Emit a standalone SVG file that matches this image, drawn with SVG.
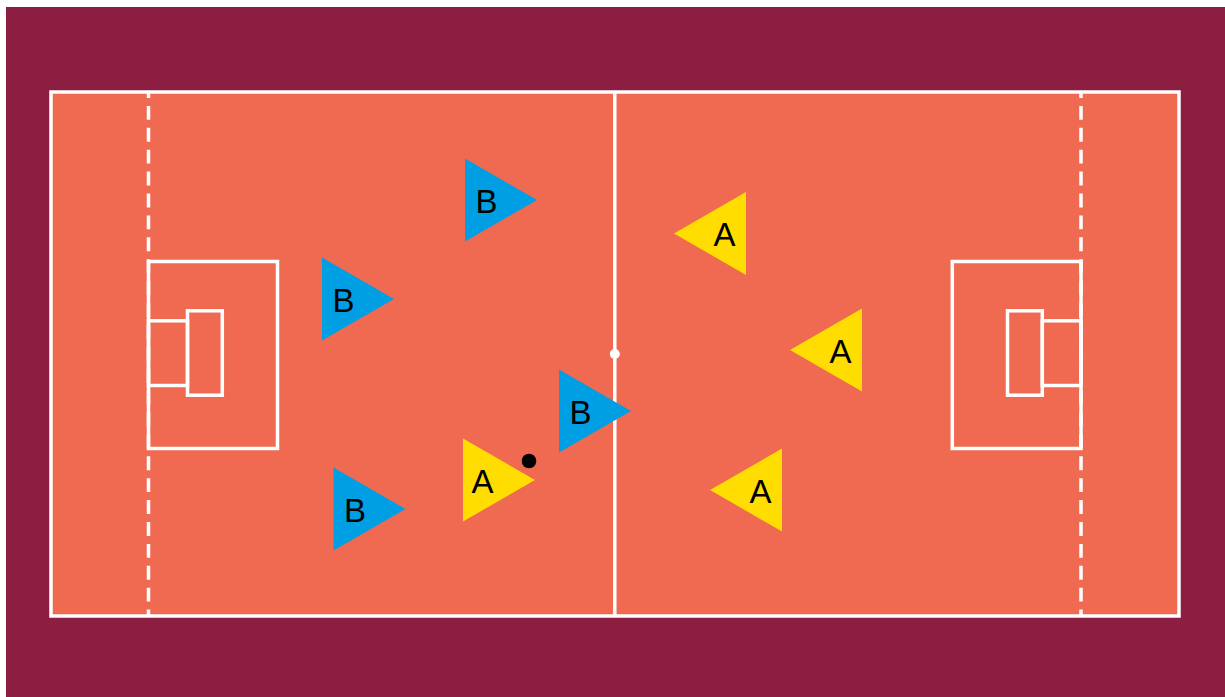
<svg xmlns="http://www.w3.org/2000/svg" width="1225" height="697" viewBox="0 0 1225 697">
<style>
.line{fill:none;stroke:#FFFFFF;stroke-width:3.5}
.dash{fill:none;stroke:#FFFFFF;stroke-width:3.5;stroke-dasharray:13.9 8;stroke-dashoffset:8}
.tb{fill:#009FE3}
.ta{fill:#FFDD00}
.lbl{font-family:"Liberation Sans",Arial,sans-serif;font-size:33px;fill:#000000;text-anchor:middle}
</style>
<rect width="1225" height="697" fill="#FFFFFF"/>
<rect x="6" y="7" width="1219" height="690" fill="#8B1E41"/>
<g id="pitch">
<rect x="51" y="92" width="1128" height="524" fill="#EF6A50"/>
<rect class="line" x="51" y="92" width="1128" height="524"/>
<line class="dash" x1="148.5" y1="92" x2="148.5" y2="616"/>
<line class="dash" x1="1081" y1="92" x2="1081" y2="616"/>
<line class="line" x1="614.8" y1="92" x2="614.8" y2="616"/>
<circle cx="614.8" cy="354" r="5" fill="#FFFFFF"/>
<rect class="line" x="148.5" y="261.5" width="129" height="187"/>
<rect class="line" x="148.5" y="320.8" width="39" height="64.7"/>
<rect class="line" x="187.5" y="310.8" width="34.8" height="84.4"/>
<rect class="line" x="952.3" y="261.5" width="128.7" height="187"/>
<rect class="line" x="1042.3" y="320.8" width="38.7" height="64.7"/>
<rect class="line" x="1007.5" y="310.8" width="34.8" height="84.4"/>
</g>
<g id="connectors"></g>
<g id="B1" transform="translate(465,200)"><polygon class="tb" points="0,-41.5 0,41.5 72,0"/><text class="lbl" x="21.5" y="12.5">B</text></g>
<g id="B2" transform="translate(322,299)"><polygon class="tb" points="0,-41.5 0,41.5 72,0"/><text class="lbl" x="21.5" y="12.5">B</text></g>
<g id="B3" transform="translate(333.5,509)"><polygon class="tb" points="0,-41.5 0,41.5 72,0"/><text class="lbl" x="21.5" y="12.5">B</text></g>
<g id="B4" transform="translate(559,411)"><polygon class="tb" points="0,-41.5 0,41.5 72,0"/><text class="lbl" x="21.5" y="12.5">B</text></g>
<g id="A1" transform="translate(463,480)"><polygon class="ta" points="0,-41.5 0,41.5 72,0"/><text class="lbl" x="19.5" y="12.5">A</text></g>
<g id="A2" transform="translate(674,233.5)"><polygon class="ta" points="0,0 72,-41.5 72,41.5"/><text class="lbl" x="50.5" y="12.5">A</text></g>
<g id="A3" transform="translate(790,350)"><polygon class="ta" points="0,0 72,-41.5 72,41.5"/><text class="lbl" x="50.5" y="12.5">A</text></g>
<g id="A4" transform="translate(710,490)"><polygon class="ta" points="0,0 72,-41.5 72,41.5"/><text class="lbl" x="50.5" y="12.5">A</text></g>
<g id="ball"><circle cx="529" cy="461" r="7.3" fill="#000000"/></g>
</svg>
